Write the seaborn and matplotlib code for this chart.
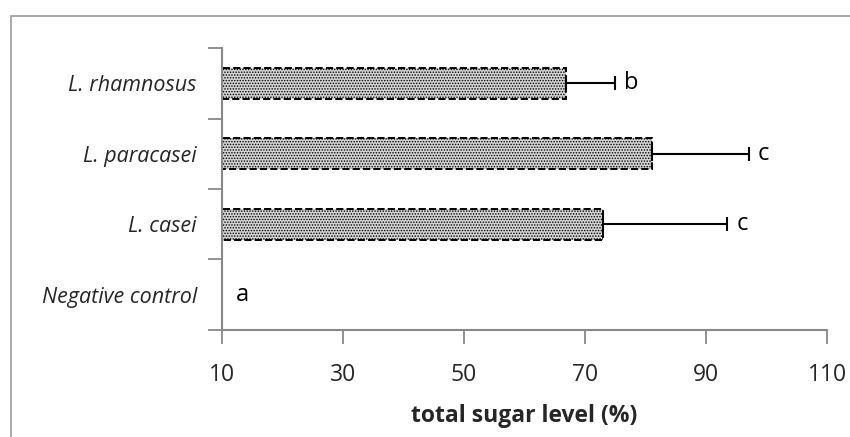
import matplotlib
matplotlib.use("Agg")
import matplotlib.pyplot as plt
import seaborn as sns
import pandas as pd
from matplotlib.patches import Rectangle

categories = ["L. rhamnosus", "L. paracasei", "L. casei", "Negative control"]
values = [66.8, 81.1, 73.0, 0.0]
errors = [8.2, 16.0, 20.5, 0.0]
letters = ["b", "c", "c", "a"]
xticks = [10, 30, 50, 70, 90, 110]

sns.set_style("white")
plt.rcParams["font.family"] = ["Open Sans", "DejaVu Sans"]
plt.rcParams["hatch.color"] = "#6a6a6a"
plt.rcParams["hatch.linewidth"] = 0.7

df = pd.DataFrame({"cat": categories, "val": values})

fig = plt.figure(figsize=(8.5, 4.37), dpi=100)
ax = fig.add_axes([0.261, 0.245, 0.712, 0.645])

sns.barplot(data=df, y="cat", x="val", orient="h", ax=ax, width=0.44,
            color="#d4d4d4", edgecolor="black", linewidth=1.4,
            linestyle="--", hatch="......", errorbar=None, saturation=1)

ypos = list(range(len(categories)))
ax.errorbar(values[:3], ypos[:3], xerr=[[0]*3, errors[:3]], fmt="none",
            ecolor="black", elinewidth=1.5, capsize=5, capthick=1.5)

for y, v, e, l in zip(ypos, values, errors, letters):
    x = max(v + e, 10.8) + 1.5
    ax.text(x, y, l, ha="left", va="center", fontsize=17, color="black")

ax.set_xlim(10, 110)
ax.set_ylim(3.5, -0.5)
ax.set_xticks(xticks)
ax.set_xticklabels([str(t) for t in xticks], fontsize=16.5)
ax.set_yticks([-0.5, 0.5, 1.5, 2.5, 3.5])
ax.set_yticklabels([])
ax.set_yticks(ypos, minor=True)
ax.set_yticklabels(categories, minor=True, fontsize=15.5, style="italic")
ax.tick_params(axis="y", which="minor", length=0, pad=18)
ax.tick_params(axis="y", which="major", length=10, width=1.3, color="#888888", direction="out", left=True)
ax.tick_params(axis="x", which="major", length=10, width=1.3, color="#888888", direction="out", bottom=True, pad=14)
ax.set_xlabel("total sugar level (%)", fontsize=16.5, fontweight="bold", labelpad=12)
ax.set_ylabel("")

for s in ["top", "right"]:
    ax.spines[s].set_visible(False)
for s in ["left", "bottom"]:
    ax.spines[s].set_color("#888888")
    ax.spines[s].set_linewidth(1.5)

# outer chart-area frame
fig.patches.append(Rectangle((11/850, -0.1), 1.2, 1 - 16/437 + 0.1,
                             transform=fig.transFigure, fill=False,
                             edgecolor="#9a9a9a", linewidth=1.2))

fig.savefig("out.png", dpi=100)
